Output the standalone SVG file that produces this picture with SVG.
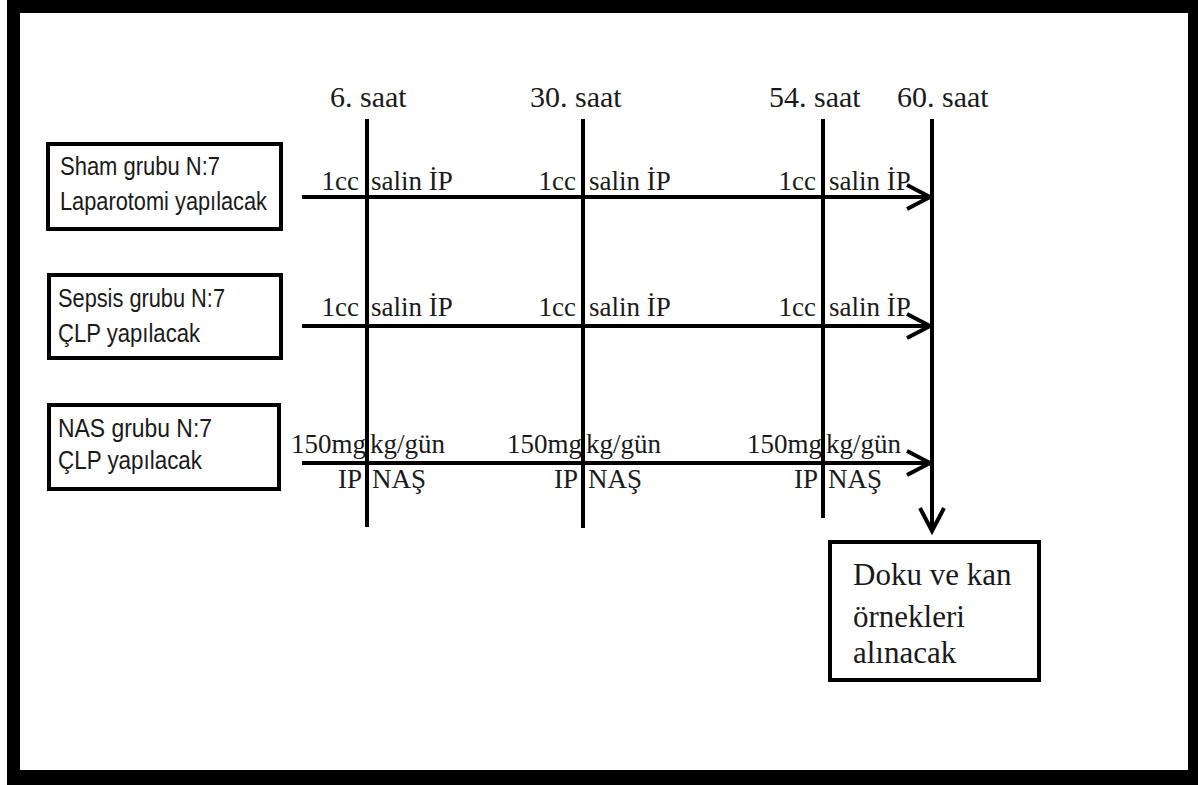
<svg xmlns="http://www.w3.org/2000/svg" width="1198" height="785" viewBox="0 0 1198 785">
<style>
.box{fill:#fff;stroke:#000;stroke-width:4}
.sans{font-family:"Liberation Sans",Arial,sans-serif;font-size:25px;fill:#1a1a1a}
.serif{font-family:"Liberation Serif","Times New Roman",serif;font-size:27px;fill:#1a1a1a}
.head{font-family:"Liberation Serif","Times New Roman",serif;font-size:30px;fill:#1a1a1a}
.doku{font-family:"Liberation Serif","Times New Roman",serif;font-size:31px;fill:#1a1a1a}
.ln{stroke:#000;stroke-width:4;fill:none}
.end{text-anchor:end}
</style>
<defs>
<marker id="chev" markerUnits="userSpaceOnUse" markerWidth="40" markerHeight="40" viewBox="-30 -20 40 40" refX="0" refY="0" orient="auto">
<path d="M-23,-12 L0,0 L-23,12" fill="none" stroke="#000" stroke-width="4"/>
</marker>
</defs>
<rect width="1198" height="785" fill="#fff"/>
<path d="M7,0 H1198 V785 H7 Z M20,13 V770 H1188 V13 Z" fill="#000" fill-rule="evenodd"/>

<g id="sham">
<rect class="box" x="48" y="144" width="233" height="85"/>
<text class="sans" x="60" y="175" textLength="160" lengthAdjust="spacingAndGlyphs">Sham grubu N:7</text>
<text class="sans" x="60" y="210" textLength="207" lengthAdjust="spacingAndGlyphs">Laparotomi yapılacak</text>
</g>
<g id="sepsis">
<rect class="box" x="49" y="275" width="232" height="83"/>
<text class="sans" x="58" y="307" textLength="167" lengthAdjust="spacingAndGlyphs">Sepsis grubu N:7</text>
<text class="sans" x="58" y="342" textLength="142" lengthAdjust="spacingAndGlyphs">ÇLP yapılacak</text>
</g>
<g id="nas">
<rect class="box" x="49" y="405" width="230" height="84"/>
<text class="sans" x="58" y="437" textLength="154" lengthAdjust="spacingAndGlyphs">NAS grubu N:7</text>
<text class="sans" x="58" y="469" textLength="144" lengthAdjust="spacingAndGlyphs">ÇLP yapılacak</text>
</g>
<g id="doku">
<rect class="box" x="830" y="542" width="209" height="138"/>
<text class="doku" x="853" y="585">Doku ve kan</text>
<text class="doku" x="853" y="627">örnekleri</text>
<text class="doku" x="853" y="663">alınacak</text>
</g>

<g id="headers">
<text class="head" x="330" y="107">6. saat</text>
<text class="head" x="530" y="107">30. saat</text>
<text class="head" x="769" y="107">54. saat</text>
<text class="head" x="897" y="107">60. saat</text>
</g>

<g id="connectors">
<line class="ln" x1="367" y1="119" x2="367" y2="527"/>
<line class="ln" x1="583" y1="119" x2="583" y2="528"/>
<line class="ln" x1="823" y1="119" x2="823" y2="518"/>
<line class="ln" x1="932" y1="119" x2="932" y2="531" marker-end="url(#chev)"/>
<line class="ln" x1="302" y1="197" x2="930" y2="197" marker-end="url(#chev)"/>
<line class="ln" x1="302" y1="326" x2="930" y2="326" marker-end="url(#chev)"/>
<line class="ln" x1="302" y1="463" x2="930" y2="463" marker-end="url(#chev)"/>
</g>

<g id="labels">
<text class="serif end" x="359" y="190">1cc</text>
<text class="serif" x="371" y="190">salin İP</text>
<text class="serif end" x="576" y="190">1cc</text>
<text class="serif" x="589" y="190">salin İP</text>
<text class="serif end" x="816" y="190">1cc</text>
<text class="serif" x="829" y="190">salin İP</text>

<text class="serif end" x="359" y="316">1cc</text>
<text class="serif" x="371" y="316">salin İP</text>
<text class="serif end" x="576" y="316">1cc</text>
<text class="serif" x="589" y="316">salin İP</text>
<text class="serif end" x="816" y="316">1cc</text>
<text class="serif" x="829" y="316">salin İP</text>

<text class="serif end" x="366" y="453">150mg</text>
<text class="serif" x="370" y="453">kg/gün</text>
<text class="serif end" x="582" y="453">150mg</text>
<text class="serif" x="586" y="453">kg/gün</text>
<text class="serif end" x="822" y="453">150mg</text>
<text class="serif" x="826" y="453">kg/gün</text>

<text class="serif end" x="362" y="488">IP</text>
<text class="serif" x="372" y="488">NAŞ</text>
<text class="serif end" x="578" y="488">IP</text>
<text class="serif" x="588" y="488">NAŞ</text>
<text class="serif end" x="818" y="488">IP</text>
<text class="serif" x="828" y="488">NAŞ</text>
</g>
</svg>
